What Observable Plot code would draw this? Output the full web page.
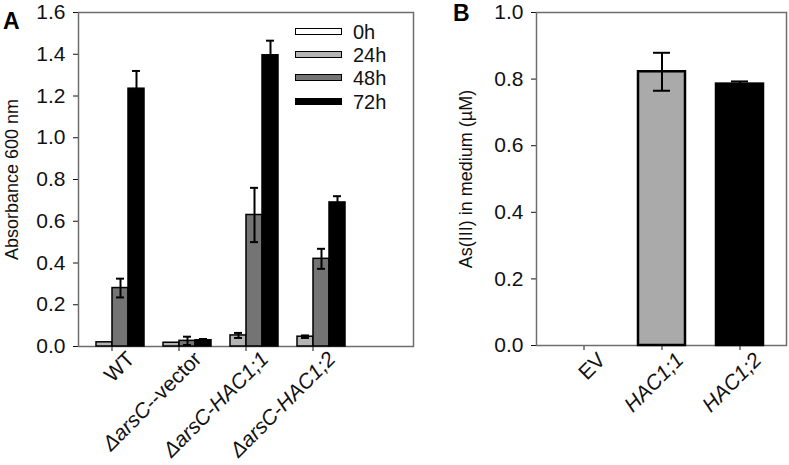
<!DOCTYPE html>
<html><head><meta charset="utf-8">
<script src="https://cdn.jsdelivr.net/npm/d3@7"></script>
<script src="https://cdn.jsdelivr.net/npm/@observablehq/plot@0.6"></script>
<style>
body{margin:0;background:#fff;font-family:"Liberation Sans",Arial,sans-serif;}
#wrap{position:relative;width:789px;height:465px;overflow:hidden;}
.panel{position:absolute;top:0;}
.plab{position:absolute;font-weight:bold;font-size:23px;line-height:23px;color:#000;}
.leg{position:absolute;font-size:20px;line-height:20px;color:#111;}
.sw{position:absolute;width:45px;height:5px;border:1.5px solid #000;}
</style>
</head><body><div id="wrap"></div>
<script>
// ---------- Panel A data ----------
const groupsA = ["WT", "ΔarsC--vector", "ΔarsC-HAC1;1", "ΔarsC-HAC1;2"];
const seriesA = ["0h", "24h", "48h", "72h"];
const colorsA = ["#ffffff", "#b4b4b4", "#747474", "#000000"];
const val0h  = [0, 0, 0, 0];
const val24h = [0.02, 0.018, 0.053, 0.047];
const val48h = [0.28, 0.027, 0.63, 0.42];
const val72h = [1.235, 0.03, 1.395, 0.69];
const err0h  = [0, 0, 0, 0];
const err24h = [0, 0, 0.012, 0.006];
const err48h = [0.045, 0.02, 0.13, 0.048];
const err72h = [0.085, 0.006, 0.07, 0.03];
const ticksA = [0, 0.2, 0.4, 0.6, 0.8, 1.0, 1.2, 1.4, 1.6];

// ---------- Panel B data ----------
const groupsB = ["EV", "HAC1;1", "HAC1;2"];
const valuesB = [0, 0.822, 0.785];
const errorsB = [0, 0.057, 0.008];
const colorsB = ["#ffffff", "#aaaaaa", "#000000"];
const ticksB = [0, 0.2, 0.4, 0.6, 0.8, 1.0];

const valsA = [val0h, val24h, val48h, val72h];
const errsA = [err0h, err24h, err48h, err72h];
const rowsA = groupsA.flatMap((g, i) => seriesA.map((s, j) => ({group: g, series: s, value: valsA[j][i], err: errsA[j][i]})));
const rowsB = groupsB.map((g, i) => ({group: g, value: valuesB[i], err: errorsB[i]}));

const font = '"Liberation Sans", Arial, sans-serif';
const baseStyle = {fontFamily: font, fontSize: "20px", color: "#111", background: "transparent", overflow: "visible"};

function italicize(svg) {
  d3.select(svg).selectAll("text").each(function () {
    const t = this.textContent;
    if (!/(ΔarsC|HAC1;\d)/.test(t) || this.querySelector("tspan")) return;
    const parts = t.split(/(ΔarsC|HAC1;\d)/).filter(p => p !== "");
    const el = d3.select(this);
    el.text(null);
    parts.forEach(p => {
      const ts = el.append("tspan").text(p);
      if (/(ΔarsC|HAC1;\d)/.test(p)) ts.attr("font-style", "italic");
    });
  });
}
function styleAxis(svg, sel, size, dx, dy) {
  d3.select(svg).selectAll(sel).each(function () {
    const g = d3.select(this);
    g.selectAll("text").style("font-size", size + "px");
    if (dx || dy) {
      const tr = g.attr("transform") || "";
      g.attr("transform", `translate(${dx},${dy}) ${tr}`);
    }
  });
}

const barsA = rowsA.filter(d => d.value > 0);
const ebA = rowsA.filter(d => d.err > 0);

const plotA = Plot.plot({
  width: 420, height: 465,
  marginLeft: 78, marginRight: 7, marginTop: 12, marginBottom: 119,
  style: baseStyle,
  fx: {domain: [...groupsA, " "], padding: 0, label: null, tickRotate: -45, tickSize: 5, tickPadding: 6, ticks: groupsA},
  x: {domain: seriesA, padding: 0, axis: null},
  y: {domain: [0, 1.6], ticks: ticksA, tickFormat: d3.format(".1f"), tickSize: 5, tickPadding: 8,
      label: "Absorbance 600 nm", labelAnchor: "center", labelOffset: 73, labelArrow: "none"},
  color: {domain: seriesA, range: colorsA},
  marks: [
    Plot.frame({facet: "super", stroke: "#6e6e6e", strokeWidth: 1.5}),
    Plot.barY(barsA, {fx: "group", x: "series", y: "value", fill: "series", stroke: "#000", strokeWidth: 1.5}),
    Plot.ruleX(ebA, {fx: "group", x: "series", y1: d => d.value - d.err, y2: d => d.value + d.err, stroke: "#000", strokeWidth: 2}),
    Plot.tickY(ebA, {fx: "group", x: "series", y: d => d.value + d.err, insetLeft: 4, insetRight: 4, stroke: "#000", strokeWidth: 2}),
    Plot.tickY(ebA, {fx: "group", x: "series", y: d => d.value - d.err, insetLeft: 4, insetRight: 4, stroke: "#000", strokeWidth: 2})
  ]
});
italicize(plotA);
styleAxis(plotA, '[aria-label="fx-axis tick label"]', 21, 19, -2);
styleAxis(plotA, '[aria-label="y-axis tick label"]', 21, 0, 0);
styleAxis(plotA, '[aria-label="y-axis label"]', 18, 0, 0);

const barsB = rowsB.filter(d => d.value > 0);
const ebB = rowsB.filter(d => d.err > 0);
const plotB = Plot.plot({
  width: 369, height: 465,
  marginLeft: 116, marginRight: 3, marginTop: 12, marginBottom: 120,
  style: baseStyle,
  x: {domain: groupsB, paddingInner: 0.4, paddingOuter: 0.3, label: null, tickRotate: -45, tickSize: 5, tickPadding: 6},
  y: {domain: [0, 1], ticks: ticksB, tickFormat: d3.format(".1f"), tickSize: 5, tickPadding: 8,
      label: "As(III) in medium (µM)", labelAnchor: "center", labelOffset: 77, labelArrow: "none"},
  color: {domain: groupsB, range: colorsB},
  marks: [
    Plot.frame({stroke: "#6e6e6e", strokeWidth: 1.5}),
    Plot.barY(barsB, {x: "group", y: "value", fill: "group", stroke: "#000", strokeWidth: 2.5}),
    Plot.ruleX(ebB, {x: "group", y1: d => d.value - d.err, y2: d => d.value + d.err, stroke: "#000", strokeWidth: 2}),
    Plot.tickY(ebB, {x: "group", y: d => d.value + d.err, insetLeft: 15, insetRight: 15, stroke: "#000", strokeWidth: 2}),
    Plot.tickY(ebB, {x: "group", y: d => d.value - d.err, insetLeft: 15, insetRight: 15, stroke: "#000", strokeWidth: 2})
  ]
});
italicize(plotB);
styleAxis(plotB, '[aria-label="x-axis tick label"]', 21, 18, 0);
styleAxis(plotB, '[aria-label="y-axis tick label"]', 21, 0, 0);
styleAxis(plotB, '[aria-label="y-axis label"]', 18, 0, 0);

const wrap = document.getElementById("wrap");
plotA.classList.add("panel"); plotA.style.left = "0px";
plotB.classList.add("panel"); plotB.style.left = "420px";
wrap.appendChild(plotA);
wrap.appendChild(plotB);

// panel letters
const la = document.createElement("div"); la.className = "plab"; la.textContent = "A";
la.style.left = "3px"; la.style.top = "10px"; wrap.appendChild(la);
const lb = document.createElement("div"); lb.className = "plab"; lb.textContent = "B";
lb.style.left = "453px"; lb.style.top = "2px"; wrap.appendChild(lb);

// legend for panel A
seriesA.forEach((s, j) => {
  const cy = 32 + j * 23.2;
  const sw = document.createElement("div"); sw.className = "sw";
  sw.style.left = "295px"; sw.style.top = (cy - 4) + "px"; sw.style.background = colorsA[j];
  wrap.appendChild(sw);
  const tx = document.createElement("div"); tx.className = "leg"; tx.textContent = s;
  tx.style.left = "353px"; tx.style.top = (cy - 10) + "px";
  wrap.appendChild(tx);
});
</script>
</body></html>
